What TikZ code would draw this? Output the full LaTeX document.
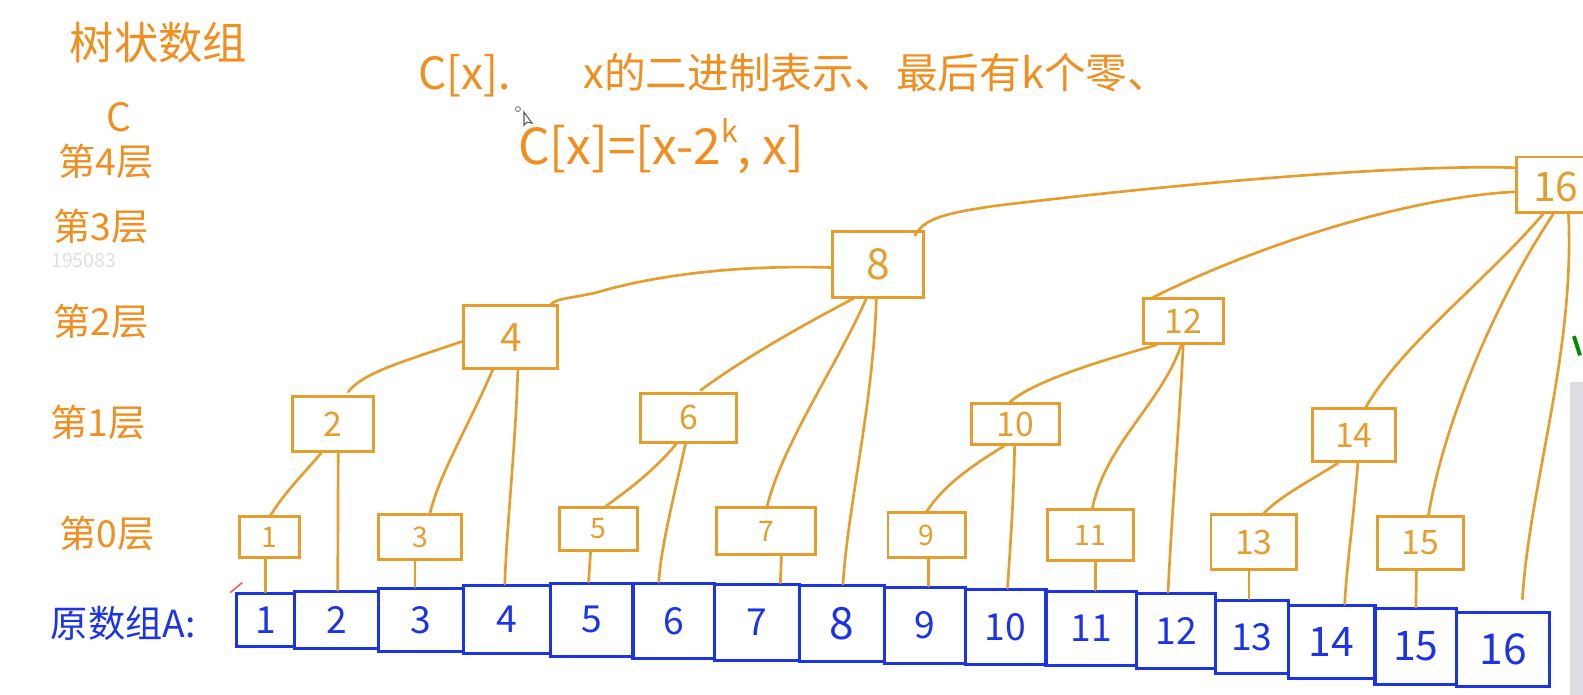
\documentclass[tikz,border=0pt]{standalone}
\usepackage{fontspec}
\newfontfamily\cjk{Noto Sans CJK SC}
\usetikzlibrary{calc}
\definecolor{org}{RGB}{228,158,45}
\definecolor{orgtxt}{RGB}{240,142,32}
\definecolor{blu}{RGB}{28,52,228}
\newcommand\fs[1]{\fontsize{#1}{#1}\selectfont}
\begin{document}
\begin{tikzpicture}[x=0.02cm,y=-0.02cm,
  ob/.style 2 args={draw=org,line width=1.6pt,minimum width=#1*0.02cm,minimum height=#2*0.02cm,inner sep=0pt,text=org,font=\cjk\fs{19}},
  lf/.style 2 args={ob={#1}{#2},font=\cjk\fs{16}},
  cell/.style 2 args={draw=blu,line width=1.8pt,minimum width=#1*0.02cm,minimum height=#2*0.02cm,inner sep=0pt,text=blu,font=\cjk\fs{21}},
  link/.style={draw=org,line width=1.5pt,line cap=round},
  hw/.style={text=orgtxt,inner sep=0pt,font=\cjk\fs{#1}}]
\clip (0,0) rectangle (1568,688);
\fill[white] (0,0) rectangle (1568,688);
% screenshot side panel
\fill[blue!10!gray!25] (1555,378) rectangle (1568,688);
\draw[green!55!black,line width=2.2pt] (1559,333) -- (1565,352);

% ---------- texts ----------
\node[hw=25] (title) at (157,42) {树状数组};
\node[hw=22] (cC) at (118,116) {C};
\node[hw=21] (l4) at (105,160) {第4层};
\node[hw=21] (l3) at (100,224) {第3层};
\node[text=gray!25,inner sep=0pt,font=\cjk\fs{11}] (wm) at (83,258) {195083};
\node[hw=21] (l2) at (100,318) {第2层};
\node[hw=21] (l1) at (97,418) {第1层};
\node[hw=21] (l0) at (106,528) {第0层};
\node[text=blu,inner sep=0pt,font=\cjk\fs{21}] (orig) at (122,617) {原数组A:};
\node[hw=25] (cx) at (460,75) {C[x].};
\node[hw=23.5] (desc) at (868,72) {x的二进制表示、最后有k个零、};
\node[hw=28] (form) at (655,145) {C[x]=[x-2\raisebox{0.45em}{\fs{17}k}, x]};
% mouse pointer
\draw[gray,line width=0.5pt] (513,108) circle (2.5);
\draw[gray!70!black,line width=0.6pt,fill=white] (519,111) -- (519,124) -- (522,121) -- (527,122) -- cycle;
\draw[red!70,line width=0.8pt] (228,587) -- (240,577);

% ---------- array A ----------
\node[cell={58}{52}] (a1) at (263,614) {1};
\node[cell={83}{56}] (a2) at (333.5,614) {2};
\node[cell={84}{62}] (a3) at (417,614) {3};
\node[cell={86}{67}] (a4) at (502,613.5) {4};
\node[cell={82}{72}] (a5) at (586,614) {5};
\node[cell={81}{74}] (a6) at (667.5,615) {6};
\node[cell={84}{75}] (a7) at (750,616.5) {7};
\node[cell={84}{75},font=\cjk\fs{25}] (a8) at (834,617.5) {8};
\node[cell={80}{75}] (a9) at (916,619.5) {9};
\node[cell={80}{74}] (a10) at (996,621) {10};
\node[cell={90}{73}] (a11) at (1081,622.5) {11};
\node[cell={78}{74}] (a12) at (1165,625) {12};
\node[cell={72}{72}] (a13) at (1240,631) {13};
\node[cell={86}{72},font=\cjk\fs{23}] (a14) at (1319,636) {14};
\node[cell={81}{75},font=\cjk\fs{23}] (a15) at (1402.5,640.5) {15};
\node[cell={92}{73},font=\cjk\fs{24}] (a16) at (1489,643.5) {16};

% ---------- tree C ----------
\node[ob={98}{55}] (c16) at (1551,183) {};
\node[text=org,inner sep=0pt,font=\cjk\fs{23}] (t16) at (1541,185) {16};
\node[ob={90}{65},font=\cjk\fs{24}] (c8) at (870,262) {8};
\node[ob={93}{62},font=\cjk\fs{22}] (c4) at (506,334) {4};
\node[ob={79}{45}] (c12) at (1172,318) {12};
\node[ob={80}{55}] (c2) at (330,420) {2};
\node[ob={95}{48}] (c6) at (682,414) {6};
\node[ob={87}{40}] (c10) at (1006,420) {10};
\node[ob={82}{53}] (c14) at (1341,431) {14};
\node[lf={60}{40}] (c1) at (267,532) {1};
\node[lf={83}{45}] (c3) at (416,532) {3};
\node[lf={77}{42}] (c5) at (593,524) {5};
\node[lf={98}{47}] (c7) at (759,526) {7};
\node[lf={77}{44}] (c9) at (918,530) {9};
\node[lf={85}{50}] (c11) at (1080,530) {11};
\node[lf={85}{55},font=\cjk\fs{19}] (c13) at (1242,537) {13};
\node[lf={85}{53},font=\cjk\fs{19}] (c15) at (1407,538) {15};

% ---------- connectors ----------
% leaves to A
\draw[link] ($(c1.south)+(-4,0)$) -- ($(a1.north)+(0,0)$);
\draw[link] ($(c3.south)+(-5,0)$) -- ($(a3.north)+(-6,0)$);
\draw[link] ($(c5.south)+(-8,0)$) -- ($(a5.north)+(-3,0)$);
\draw[link] ($(c7.south)+(15,0)$) -- ($(a7.north)+(23,0)$);
\draw[link] ($(c9.south)+(2,0)$) -- ($(a9.north)+(4,0)$);
\draw[link] ($(c11.south)+(5,0)$) -- ($(a11.north)+(4,0)$);
\draw[link] ($(c13.south)+(-5,0)$) -- ($(a13.north)+(-3,0)$);
\draw[link] ($(c15.south)+(-4,0)$) -- ($(a15.north)+(0,0)$);
% C2
\draw[link] ($(c2.south)+(-12,0)$) .. controls (300,470) and (280,490) .. ($(c1.north)+(1,0)$);
\draw[link] ($(c2.south)+(5,0)$) -- ($(a2.north)+(1,0)$);
% C4
\draw[link] ($(c4.west)+(0,4)$) .. controls (410,355) and (360,368) .. ($(c2.north)+(15,-3)$);
\draw[link] ($(c4.south)+(-18,0)$) .. controls (465,420) and (435,470) .. ($(c3.north)+(10,0)$);
\draw[link] ($(c4.south)+(7,0)$) .. controls (510,450) and (502,520) .. ($(a4.north)+(-2,0)$);
% C6
\draw[link] ($(c6.south)+(-12,0)$) .. controls (645,470) and (615,490) .. ($(c5.north)+(7,0)$);
\draw[link] ($(c6.south)+(-3,0)$) .. controls (668,490) and (655,540) .. ($(a6.north)+(-15,0)$);
% C8
\draw[link] ($(c8.west)+(0,3)$) .. controls (720,262) and (640,275) .. (590,290) .. controls (562,296) and (550,296) .. ($(c4.north east)+(-8,0)$);
\draw[link] ($(c8.north east)+(-10,5)$) .. controls (915,218) and (930,212) .. (985,204) .. controls (1200,178) and (1400,163) .. ($(c16.north west)+(0,12)$);
\draw[link] ($(c8.south)+(-25,0)$) .. controls (780,330) and (730,360) .. ($(c6.north)+(12,-2)$);
\draw[link] ($(c8.south)+(-12,0)$) .. controls (830,360) and (775,440) .. ($(c7.north)+(1,0)$);
\draw[link] ($(c8.south)+(-2,0)$) .. controls (865,400) and (840,500) .. ($(a8.north)+(1,0)$);
% C10
\draw[link] ($(c10.south)+(-11,0)$) .. controls (965,460) and (935,480) .. (c9.north);
\draw[link] ($(c10.south)+(-1,0)$) .. controls (1004,500) and (1000,550) .. ($(a10.north)+(2,0)$);
% C12
\draw[link] ($(c12.south)+(-27,0)$) .. controls (1080,360) and (1020,380) .. ($(c10.north)+(-6,0)$);
\draw[link] ($(c12.south)+(-2,0)$) .. controls (1150,400) and (1095,440) .. ($(c11.north)+(2,0)$);
\draw[link] (c12.south) .. controls (1168,420) and (1160,520) .. ($(a12.north)+(-8,0)$);
\draw[link] ($(c12.north west)+(8,2)$) .. controls (1250,240) and (1400,195) .. ($(c16.west)+(0,7)$);
% C14
\draw[link] ($(c14.south)+(-16,0)$) .. controls (1300,475) and (1270,490) .. ($(c13.north)+(10,0)$);
\draw[link] ($(c14.south)+(4,0)$) .. controls (1340,520) and (1333,570) .. ($(a14.north)+(13,0)$);
% C16
\draw[link] ($(c16.south west)+(28,0)$) .. controls (1470,280) and (1390,340) .. ($(c14.north)+(12,0)$);
\draw[link] ($(c16.south west)+(38,0)$) .. controls (1480,300) and (1430,420) .. ($(c15.north)+(8,0)$);
\draw[link] ($(c16.south west)+(53,0)$) .. controls (1560,350) and (1515,480) .. ($(a16.north)+(19,-12)$);
\end{tikzpicture}
\end{document}
